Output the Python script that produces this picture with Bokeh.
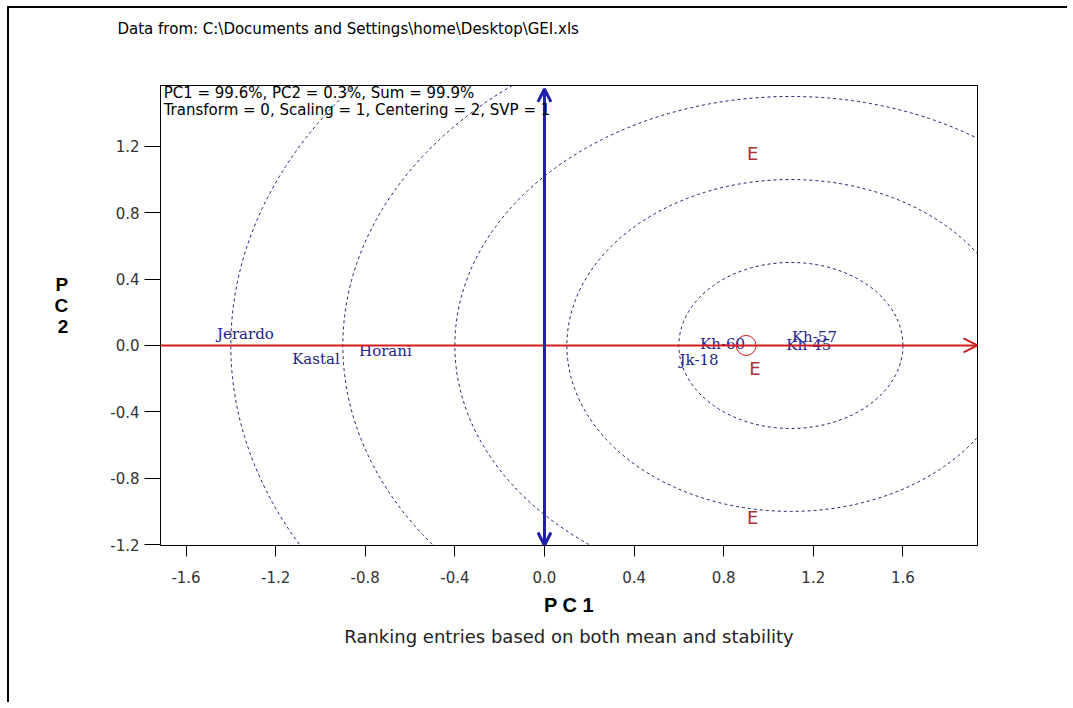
from bokeh.plotting import figure
from bokeh.models import Range1d, Label, Arrow, OpenHead, FixedTicker, Title
from bokeh.embed import file_html
from bokeh.resources import INLINE
from bokeh.core.properties import value

# ---- data ----
genotypes = ["Jerardo", "Kastal", "Horani", "Kh-60", "Jk-18", "Kh-57", "Kh-45"]
geno_pc1 = [-1.335, -1.02, -0.71, 0.795, 0.69, 1.205, 1.18]
geno_pc2 = [0.07, -0.08, -0.035, 0.01, -0.09, 0.05, 0.0]

env_labels = ["E", "E", "E"]
env_pc1 = [0.93, 0.94, 0.93]
env_pc2 = [1.157, -0.14, -1.036]

aec_x = [0.90]
aec_y = [0.0]

ideal_x = 1.10
ideal_y = 0.0
circle_radii = [0.5, 1.0, 1.5, 2.0, 2.5]

x_ticks = [-1.6, -1.2, -0.8, -0.4, 0.0, 0.4, 0.8, 1.2, 1.6]
x_tick_labels = ["-1.6", "-1.2", "-0.8", "-0.4", "0.0", "0.4", "0.8", "1.2", "1.6"]
y_ticks = [-1.2, -0.8, -0.4, 0.0, 0.4, 0.8, 1.2]
y_tick_labels = ["-1.2", "-0.8", "-0.4", "0.0", "0.4", "0.8", "1.2"]

x_min, x_max = -1.714, 1.933
y_min, y_max = -1.205, 1.566

source_text = "Data from: C:\\Documents and Settings\\home\\Desktop\\GEI.xls"
info_line1 = "PC1 = 99.6%, PC2 = 0.3%, Sum = 99.9%"
info_line2 = "Transform = 0, Scaling = 1, Centering = 2, SVP = 1"
x_label = "P C 1"
y_label = "P\nC\n2\n "
caption = "Ranking entries based on both mean and stability"

BLUE_TXT = "#22228a"
CIRCLE_COL = "#1c1c70"
RED = "#d41c1c"
BROWN = "#a83434"
AXIS_BLUE = "#1e1ea8"

p = figure(width=1060, height=696, output_backend="svg", toolbar_location=None,
           x_range=Range1d(x_min, x_max), y_range=Range1d(y_min, y_max),
           min_border_left=151, min_border_right=92, min_border_top=77, min_border_bottom=159)
p.background_fill_color = "white"
p.border_fill_color = "white"
p.outline_line_color = "black"
p.outline_line_width = 1
p.xgrid.visible = False
p.ygrid.visible = False
# outer frame of the picture (top and left edges)
p.styles = {"border-top": "2px solid black", "border-left": "2px solid black",
            "margin-top": "6px", "margin-left": "7px"}

for ax, ticks, labels in ((p.xaxis[0], x_ticks, x_tick_labels), (p.yaxis[0], y_ticks, y_tick_labels)):
    ax.ticker = FixedTicker(ticks=ticks)
    ax.major_label_overrides = {t: l for t, l in zip(ticks, labels)}
    ax.minor_tick_line_color = None
    ax.major_tick_in = 0
    ax.major_label_text_font = "DejaVu Sans"
    ax.major_label_text_font_size = "15px"
    ax.major_label_text_color = "#333333"
    ax.axis_line_color = "black"
    ax.major_tick_line_color = "black"
    ax.axis_label_text_font = "Liberation Sans"
    ax.axis_label_text_font_style = "bold"
    ax.axis_label_text_color = "black"

p.xaxis.major_tick_out = 11
p.xaxis.major_label_standoff = 14
p.yaxis.major_tick_out = 16
p.yaxis.major_label_standoff = 5

p.xaxis.axis_label = x_label
p.xaxis.axis_label_text_font_size = "20px"
p.xaxis.axis_label_standoff = 8

p.yaxis.axis_label = y_label
p.yaxis.axis_label_orientation = "horizontal"
p.yaxis.axis_label_text_font_size = "19px"
p.yaxis.axis_label_text_line_height = 1.0
p.yaxis.axis_label_standoff = 39

# concentric circles around the ideal entry
n = len(circle_radii)
p.ellipse(x=[ideal_x] * n, y=[ideal_y] * n,
          width=[2 * r for r in circle_radii], height=[2 * r for r in circle_radii],
          fill_color=None, line_color=CIRCLE_COL, line_width=1, line_dash="3 3")

# average environment axis (red) and its perpendicular (blue)
p.add_layout(Arrow(x_start=x_min, y_start=0, x_end=x_max, y_end=0,
                   line_color=RED, line_width=2,
                   end=OpenHead(size=14, line_color=RED, line_width=2)))
p.add_layout(Arrow(x_start=0, y_start=y_min, x_end=0, y_end=y_max - 0.02,
                   line_color=AXIS_BLUE, line_width=3,
                   start=OpenHead(size=13, line_color=AXIS_BLUE, line_width=3),
                   end=OpenHead(size=13, line_color=AXIS_BLUE, line_width=3)))

# average environment marker
p.scatter(x=aec_x, y=aec_y, marker="circle", size=20, fill_color=None,
          line_color=RED, line_width=1)

# genotype labels
p.text(x=geno_pc1, y=geno_pc2, text=genotypes, text_font=value("DejaVu Serif"),
       text_font_size="15px", text_color=BLUE_TXT, text_align="center", text_baseline="middle")

# environment labels
p.text(x=env_pc1, y=env_pc2, text=env_labels, text_font=value("DejaVu Sans"),
       text_font_size="18px", text_color=BROWN, text_align="center", text_baseline="middle")

# texts inside the frame
p.add_layout(Label(x=-1.70, y=1.518, text=info_line1, text_font="DejaVu Sans",
                   text_font_size="15px", text_color="black", text_baseline="middle"))
p.add_layout(Label(x=-1.70, y=1.416, text=info_line2, text_font="DejaVu Sans",
                   text_font_size="15px", text_color="black", text_baseline="middle"))

# texts outside the frame: a blank spacer title next to the frame, then the source line
p.add_layout(Title(text=" ", align="left", standoff=20,
                   text_font="DejaVu Sans", text_font_size="15px"), "above")
p.add_layout(Title(text=source_text, align="left", offset=-43, standoff=16,
                   text_font="DejaVu Sans", text_font_size="15px",
                   text_font_style="normal", text_color="black"), "above")
p.add_layout(Title(text=caption, align="center", standoff=10,
                   text_font="DejaVu Sans", text_font_size="18px",
                   text_font_style="normal", text_color="#222222"), "below")

open("out.html", "w").write(file_html(p, INLINE))
